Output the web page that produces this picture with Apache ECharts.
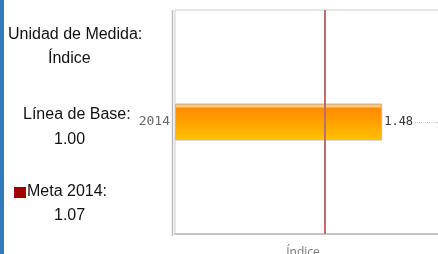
<!DOCTYPE html>
<html>
<head>
<meta charset="utf-8">
<script src="https://cdn.jsdelivr.net/npm/echarts@6/dist/echarts.min.js"></script>
<style>
  html, body { margin: 0; padding: 0; background: #fff; }
  #chart { width: 438px; height: 254px; }
</style>
</head>
<body>
<div id="chart"></div>
<script>
// datos
var categorias = ['2014'];
var valores = [1.48];
var meta = 1.07;
var ejeMin = 0;
var ejeMax = 2;

var chart = echarts.init(document.getElementById('chart'));

// texto del panel izquierdo
var panel = [
    { text: 'Unidad de Medida:', x: 8, y: 35 },
    { text: 'Índice', x: 48, y: 59 },
    { text: 'Línea de Base:', x: 23, y: 115 },
    { text: '1.00', x: 54, y: 140 },
    { text: 'Meta 2014:', x: 27, y: 192 },
    { text: '1.07', x: 54, y: 216 }
];

var graficos = [
    { type: 'rect', shape: { x: 0, y: 0, width: 4, height: 254 }, style: { fill: '#2f79bd' } },
    { type: 'rect', shape: { x: 14, y: 187, width: 12, height: 11 }, style: { fill: '#a00000' } },
    { type: 'line', shape: { x1: 172.5, y1: 10, x2: 172.5, y2: 236 }, style: { stroke: '#bbbbbb', lineWidth: 1.5 } }
];
panel.forEach(function (p) {
    graficos.push({
        type: 'text', left: p.x, top: p.y - 8,
        style: { text: p.text, fill: '#111', font: '16px "Liberation Sans", Arial, sans-serif' }
    });
});

var option = {
    animation: false,
    grid: {
        left: 175, top: 10, bottom: 20, right: -17, outerBoundsMode: 'none', containLabel: false,
        show: true, borderColor: '#cccccc', borderWidth: 1
    },
    xAxis: {
        type: 'value', min: ejeMin, max: ejeMax,
        axisLabel: { show: false }, axisTick: { show: false },
        axisLine: { show: true, lineStyle: { color: '#bbbbbb', width: 1.5 } },
        splitLine: { show: false },
        name: 'Índice', nameLocation: 'middle', nameGap: 13,
        nameTextStyle: { color: '#777', fontSize: 12, fontFamily: 'Open Sans', padding: [0, 24, 0, 0] }
    },
    yAxis: {
        type: 'category', data: categorias,
        axisLine: { show: false }, axisTick: { show: false },
        axisLabel: { margin: 5, color: '#666', fontSize: 13, fontFamily: 'DejaVu Sans Mono' }
    },
    series: [
        {
            type: 'line', data: [null], z: 1, silent: true,
            markLine: {
                z: 1, silent: true, symbol: 'none', label: { show: false },
                lineStyle: { color: '#cccccc', type: 'dotted', width: 1 },
                data: [{ yAxis: '2014' }]
            }
        },
        {
            type: 'bar', data: valores, barWidth: 37, z: 3,
            itemStyle: {
                borderColor: '#bbbbbb', borderWidth: 1,
                color: new echarts.graphic.LinearGradient(0, 0, 0, 1, [
                    { offset: 0, color: '#f58a00' },
                    { offset: 0.07, color: '#ffd9a8' },
                    { offset: 0.13, color: '#ff8c00' },
                    { offset: 0.5, color: '#ffa000' },
                    { offset: 1, color: '#ffc400' }
                ])
            },
            label: {
                show: true, position: 'right', distance: 1, color: '#333',
                fontSize: 12, fontFamily: 'DejaVu Sans Mono',
                backgroundColor: '#fff', padding: [1, 1, 1, 1],
                formatter: function (p) { return p.value.toFixed(2); }
            },
            markLine: {
                z: 5, silent: true, symbol: 'none', label: { show: false },
                lineStyle: { color: '#bf6c6c', type: 'solid', width: 2 },
                data: [{ xAxis: meta }]
            }
        }
    ],
    graphic: graficos
};

chart.setOption(option);
</script>
</body>
</html>
